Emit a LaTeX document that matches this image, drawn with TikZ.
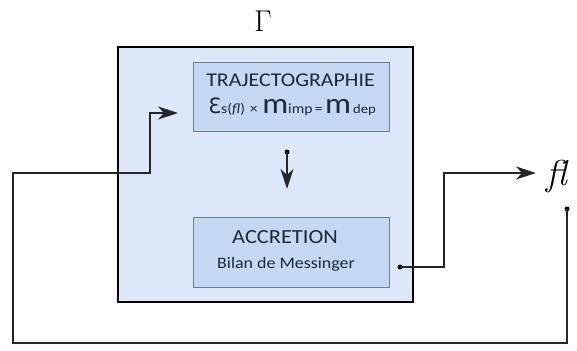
\documentclass[tikz,border=0pt]{standalone}
\usepackage{fontspec}
\setsansfont{Carlito}
\newfontfamily\carl[FakeStretch=1.12]{Carlito}
\newfontfamily\djv{DejaVu Sans}
\usetikzlibrary{arrows.meta}
\definecolor{outerfill}{HTML}{DCE8F8}
\definecolor{innerfill}{HTML}{C4D8F2}
\definecolor{innerdraw}{HTML}{6E7F92}
\definecolor{txt}{HTML}{1E2838}
\tikzset{
  outerbox/.style={draw=black, line width=1.8pt, fill=outerfill, minimum width=295pt, minimum height=255pt, inner sep=0pt},
  innerbox/.style={draw=innerdraw, line width=0.9pt, fill=innerfill, minimum width=196pt, minimum height=69pt, inner sep=0pt},
  lbl/.style={anchor=base, inner sep=0pt, text=txt},
  wire/.style={line width=1.2pt, draw=black!85},
  arr/.style={wire, -{Stealth[length=20pt, width=13pt, inset=6pt]}},
  dot/.style={circle, fill=black, inner sep=0pt, minimum size=5pt}
}
\begin{document}
\begin{tikzpicture}[x=1pt,y=-1pt]
\useasboundingbox (0,0) rectangle (577,350);
\node[outerbox] (big) at (265.5,174.5) {};
\node[inner sep=0pt] (gamma) at (263,21) {\scalebox{1.45}{\fontsize{22}{22}\selectfont$\Gamma$}};
\node[innerbox] (traj) at (291,96.5) {};
\node[lbl, font=\carl\fontsize{19.5}{19.5}\selectfont] (trajT) at (290.5,87) {TRAJECTOGRAPHIE};
\node[lbl] (trajE) at (292,113) {{\djv\fontsize{21}{21}\selectfont Ɛ}{\carl\fontsize{14}{14}\selectfont s(\textit{fl})\,\,×\,\,}{\carl\fontsize{29}{20}\selectfont m}{\carl\fontsize{14}{14}\selectfont imp\,=\,}{\carl\fontsize{29}{20}\selectfont m}{\carl\fontsize{13}{13}\selectfont\,dep}};
\node[innerbox, minimum height=70pt] (accr) at (291,252) {};
\node[lbl, font=\carl\fontsize{20}{20}\selectfont] (accrT) at (285,243) {ACCRETION};
\node[lbl, font=\carl\fontsize{16}{16}\selectfont] (accrB) at (286,268) {Bilan de Messinger};
\node[anchor=west, inner sep=0pt, font=\fontsize{36}{36}\selectfont\itshape] (fl) at (546,176) {fl};
\node[dot] (d1) at (287,152) {};
\coordinate (m1) at (287,189);
\node[dot] (d2) at (400,267) {};
\coordinate (o1) at (444,267);
\coordinate (o2) at (444,173);
\coordinate (o3) at (536,173);
\node[dot] (d3) at (567,209) {};
\coordinate (f1) at (567,343);
\coordinate (f2) at (13,343);
\coordinate (f3) at (13,173);
\coordinate (f4) at (150,173);
\coordinate (f5) at (150,113);
\coordinate (f6) at (178,113);
\draw[arr] (d1.center) -- (m1);
\draw[arr] (d2.center) -- (o1) -- (o2) -- (o3);
\draw[arr] (d3.center) -- (f1) -- (f2) -- (f3) -- (f4) -- (f5) -- (f6);
\end{tikzpicture}
\end{document}
